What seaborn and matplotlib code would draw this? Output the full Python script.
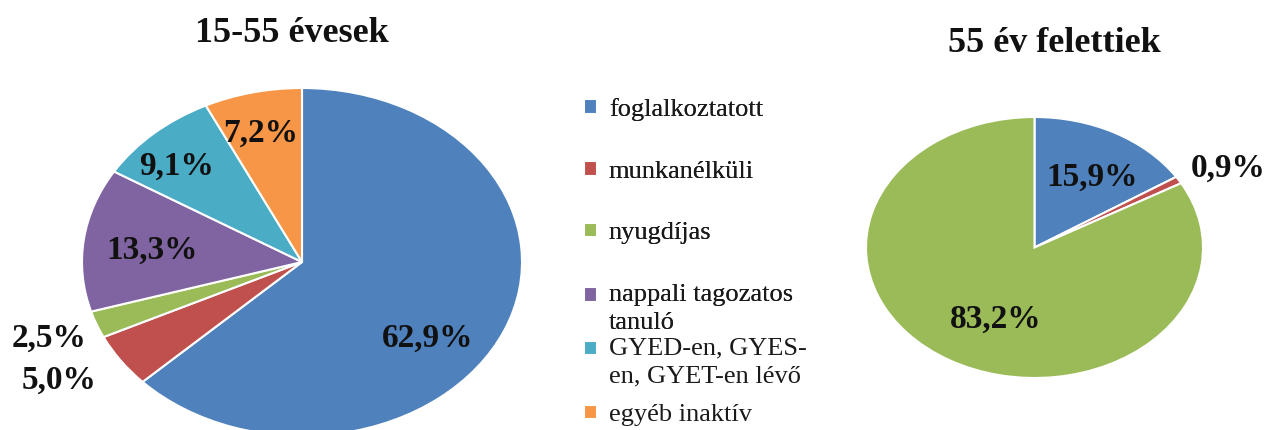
import seaborn as sns
import matplotlib.pyplot as plt
from matplotlib.patches import Rectangle
from matplotlib.legend_handler import HandlerPatch

sns.set_theme(style="white")
plt.rcParams["font.family"] = ["Liberation Serif", "DejaVu Serif"]
plt.rcParams["text.color"] = "#111111"

categories = ["foglalkoztatott", "munkanélküli", "nyugdíjas",
              "nappali tagozatos\ntanuló", "GYED-en, GYES-\nen, GYET-en lévő",
              "egyéb inaktív"]
young = [62.9, 5.0, 2.5, 13.3, 9.1, 7.2]
old = [15.9, 0.9, 83.2, 0.0, 0.0, 0.0]
young_labels = ["62,9%", "5,0%", "2,5%", "13,3%", "9,1%", "7,2%"]
old_labels = ["15,9%", "0,9%", "83,2%", "", "", ""]

colors = ["#4F81BD", "#C0504D", "#9BBB59", "#8064A2", "#4BACC6", "#F79646"]

# label placement in pie-radius units (x, y)
young_pos = [(0.57, -0.44), (-1.105, -0.68), (-1.15, -0.44),
             (-0.68, 0.07), (-0.57, 0.55), (-0.19, 0.74)]
old_pos = [(0.34, 0.54), (1.15, 0.61), (-0.23, -0.55)]

fig = plt.figure(figsize=(12.72, 4.30), dpi=100)


def draw_pie(ax, values, labels, pos):
    keep = [i for i, v in enumerate(values) if v > 0]
    wedges, _ = ax.pie([values[i] for i in keep],
                       colors=[colors[i] for i in keep],
                       startangle=90, counterclock=False, radius=1,
                       wedgeprops=dict(edgecolor="white", linewidth=1.5))
    ax.set_aspect("auto")
    ax.set_xlim(-1, 1)
    ax.set_ylim(-1, 1)
    for j, i in enumerate(keep):
        x, y = pos[j]
        ax.text(x, y, labels[i], ha="center", va="center", fontsize=24,
                fontweight="bold", clip_on=False)
    return wedges


ax1 = fig.add_axes([82 / 1272, -6 / 430, 440 / 1272, 348 / 430])
wedges = draw_pie(ax1, young, young_labels, young_pos)

ax2 = fig.add_axes([866 / 1272, 52 / 430, 337 / 1272, 261 / 430])
draw_pie(ax2, old, old_labels, old_pos)

fig.text(292 / 1272, 1 - 33 / 430, "15-55 évesek", ha="center", va="center",
         fontsize=26, fontweight="bold")
fig.text(1054 / 1272, 1 - 44 / 430, "55 év felettiek", ha="center", va="center",
         fontsize=26, fontweight="bold")


# square on the first line of two-line entries, as in Excel
def first_line_square(legend, orig_handle, xdescent, ydescent, width, height, fontsize):
    return Rectangle((-xdescent, -ydescent + 9.5), width, height)


two_line = {h: HandlerPatch(patch_func=first_line_square)
            for h, c in zip(wedges, categories) if "\n" in c}

leg_kw = dict(loc="upper left", frameon=False, fontsize=19,
              handlelength=0.48, handleheight=0.48, handletextpad=0.45,
              borderpad=0, labelcolor="#1a1a1a", handler_map=two_line)
leg1 = fig.legend(wedges[:4], categories[:4],
                  bbox_to_anchor=(571 / 1272, 1 - 85 / 430),
                  labelspacing=1.5, **leg_kw)
fig.add_artist(leg1)
leg2 = fig.legend(wedges[4:], categories[4:],
                  bbox_to_anchor=(571 / 1272, 1 - 324 / 430),
                  labelspacing=0.65, **leg_kw)
for leg in (leg1, leg2):
    for t in leg.get_texts():
        t.set_linespacing(1.35)

fig.savefig("out.png", dpi=100)
